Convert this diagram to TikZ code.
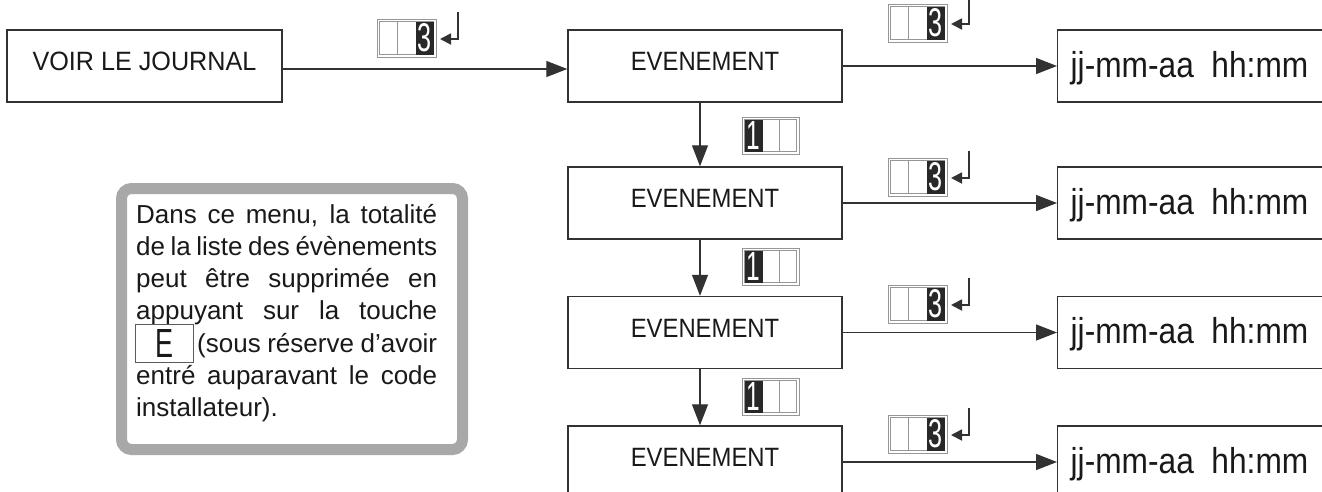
\documentclass[tikz,border=0pt]{standalone}
\usepackage{fontspec}
\setmainfont{Liberation Sans}
\usetikzlibrary{arrows.meta}
\definecolor{linec}{RGB}{50,50,50}
\definecolor{textc}{RGB}{25,25,25}
\definecolor{notegray}{RGB}{168,168,168}
\definecolor{iconframe}{RGB}{150,150,150}
\definecolor{keydark}{RGB}{40,40,40}
\tikzset{
  box/.style={draw=linec, line width=1.4pt, minimum width=274pt, minimum height=72pt,
    inner sep=0pt, text=textc, font=\fontsize{26.5}{26.5}\selectfont, text height=19pt, text depth=10pt},
  resbox/.style={draw=linec, line width=1.4pt, minimum height=72pt, anchor=west,
    inner xsep=13pt, inner ysep=0pt, text=textc, font=\fontsize{36}{36}\selectfont, text height=28pt, text depth=6pt},
  arr/.style={draw=linec, line width=1.3pt, -{Triangle[length=21pt,width=16pt]}},
  retarrow/.style={draw=linec, line width=1.8pt, -{Triangle[length=11pt,width=11pt]}},
  digit/.style={inner sep=0pt, text=white},
  notebox/.style={draw=notegray, line width=11pt, rounded corners=10pt, fill=white,
    minimum width=341pt, minimum height=261pt},
  ekey/.style={draw=linec!80, line width=0.8pt, minimum width=58pt, minimum height=38pt,
    inner sep=0pt, text=textc},
  pics/keythree/.style={code={
    \draw[draw=iconframe, line width=1pt] (0,0) rectangle (59,38);
    \draw[draw=iconframe, line width=0.9pt] (2.5,2.5) rectangle (56.5,35.5);
    \draw[draw=iconframe, line width=0.9pt] (20.5,2.5) -- (20.5,35.5);
    \fill[keydark] (38.5,2.5) rectangle (56.5,35.5);
    \node[digit] (-d) at (47.5,19) {\resizebox{14pt}{28pt}{3}};
    \coordinate (-top) at (81,-7);
    \coordinate (-corner) at (81,20);
    \coordinate (-tip) at (63,20);
    \draw[retarrow] (-top) -- (-corner) -- (-tip);
  }},
  pics/keyone/.style={code={
    \draw[draw=iconframe, line width=1pt] (0,0) rectangle (57,37);
    \draw[draw=iconframe, line width=0.9pt] (2.5,2.5) rectangle (54.5,34.5);
    \draw[draw=iconframe, line width=0.9pt] (37.5,2.5) -- (37.5,34.5);
    \fill[keydark] (2.5,2.5) rectangle (20.5,34.5);
    \node[digit] (-d) at (11.5,18.5) {\resizebox{!}{28pt}{\scalebox{0.6}[1]{1}}};
  }},
}
\begin{document}
\begin{tikzpicture}[x=1pt,y=-1pt]
\useasboundingbox (0,0) rectangle (1322,491);
\clip (0,0) rectangle (1322,491);

% main boxes
\node[box, minimum width=275pt] (voir) at (144.5,66) {\scalebox{0.95}[1]{VOIR LE JOURNAL}};
\node[box] (ev1) at (705,66)    {\scalebox{0.9}[1]{EVENEMENT}};
\node[box] (ev2) at (705,203)   {\scalebox{0.9}[1]{EVENEMENT}};
\node[box] (ev3) at (705,332.5) {\scalebox{0.9}[1]{EVENEMENT}};
\node[box] (ev4) at (705,462)   {\scalebox{0.9}[1]{EVENEMENT}};

% result boxes (cut by the right edge)
\foreach \i/\y in {1/66,2/203,3/332.5,4/462}{
  \node[resbox] (res\i) at (1057,\y) {\makebox[280pt][l]{\scalebox{0.88}[1]{jj-mm-aa\ \ hh:mm}}};
}

% connectors
\draw[arr] ([yshift=-3pt]voir.east) -- ([yshift=-3pt]ev1.west);
\foreach \i in {1,2,3,4}{
  \draw[arr] (ev\i.east) -- (res\i.west);
}
\draw[arr] ([xshift=-5pt]ev1.south) -- ([xshift=-5pt]ev2.north);
\draw[arr] ([xshift=-5pt]ev2.south) -- ([xshift=-5pt]ev3.north);
\draw[arr] ([xshift=-5pt]ev3.south) -- ([xshift=-5pt]ev4.north);

% key icons
\pic (k0) at (377,19) {keythree};
\pic (k1) at (888,4) {keythree};
\pic (k2) at (888,158) {keythree};
\pic (k3) at (888,285) {keythree};
\pic (k4) at (888,415) {keythree};
\pic (o1) at (742,117) {keyone};
\pic (o2) at (742,248) {keyone};
\pic (o3) at (742,378) {keyone};

% note
\node[notebox] (note) at (292,319) {};
\node[anchor=base west, inner sep=0pt, text=textc, font=\fontsize{26}{32.3}\selectfont] (notetext) at (136,223)
  {\vtop{\baselineskip=32.3pt
   \hbox to 301pt{Dans ce menu, la totalité}
   \hbox to 301pt{de la liste des évènements}
   \hbox to 301pt{peut être supprimée en}
   \hbox to 301pt{appuyant sur la touche}
   \hbox to 301pt{\hskip61pt (sous réserve d’avoir}
   \hbox to 301pt{entré auparavant le code}
   \hbox to 301pt{installateur).\hfil}}};
\node[ekey] (ekey) at (164,343) {\resizebox{18pt}{28pt}{E}};
\end{tikzpicture}
\end{document}
